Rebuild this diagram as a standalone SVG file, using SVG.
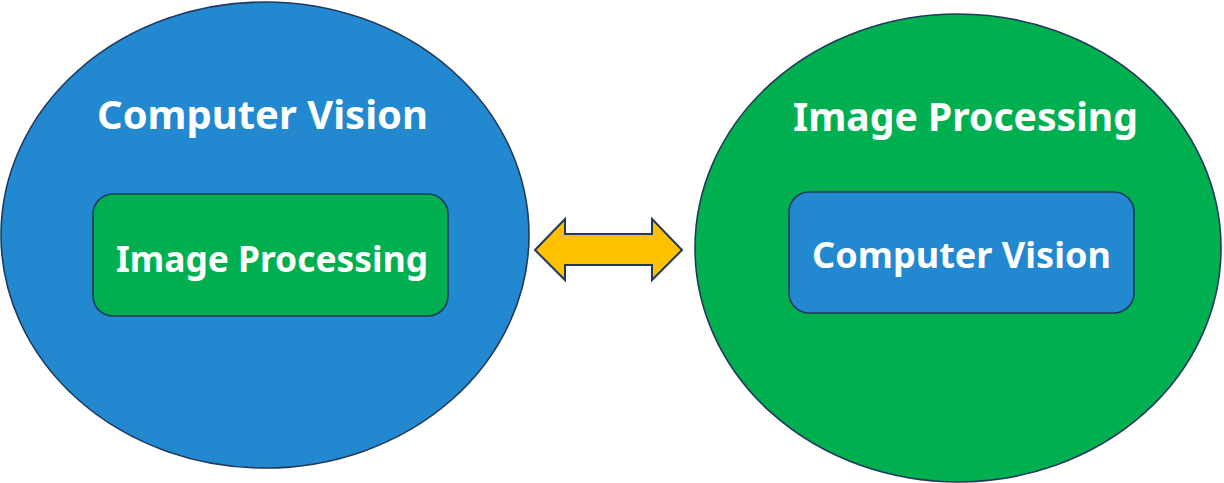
<svg xmlns="http://www.w3.org/2000/svg" width="1224" height="483" viewBox="0 0 1224 483">
<style>
.outline{stroke:#203A5C;stroke-width:1.6}
.blue{fill:#2288D0}
.green{fill:#00B050}
.t{font-family:"Noto Sans","Open Sans","DejaVu Sans",sans-serif;font-weight:bold;fill:#FFFFFF}
.big{font-size:40px}
.small{font-size:36px}
</style>
<rect width="1224" height="483" fill="#FFFFFF"/>
<g id="node-left">
<ellipse class="blue outline" cx="265" cy="235" rx="264" ry="233"/>
<text class="t big" x="97" y="129" textLength="331" lengthAdjust="spacingAndGlyphs">Computer Vision</text>
</g>
<g id="node-left-inner">
<rect class="green outline" x="93" y="194" width="355" height="122" rx="20" ry="20"/>
<text class="t small" x="116" y="272" textLength="312" lengthAdjust="spacingAndGlyphs">Image Processing</text>
</g>
<g id="node-right">
<ellipse class="green outline" cx="958" cy="248" rx="263" ry="234"/>
<text class="t big" x="793" y="131" textLength="345" lengthAdjust="spacingAndGlyphs">Image Processing</text>
</g>
<g id="node-right-inner">
<rect class="blue outline" x="789" y="192" width="345" height="121" rx="20" ry="20"/>
<text class="t small" x="812" y="268" textLength="299" lengthAdjust="spacingAndGlyphs">Computer Vision</text>
</g>
<g id="connectors">
<polygon points="535,250 565,219 565,234 652,234 652,219 682,250 652,280 652,265 565,265 565,280" fill="#FFC000" stroke="#203A5C" stroke-width="2" stroke-linejoin="miter"/>
</g>
</svg>
